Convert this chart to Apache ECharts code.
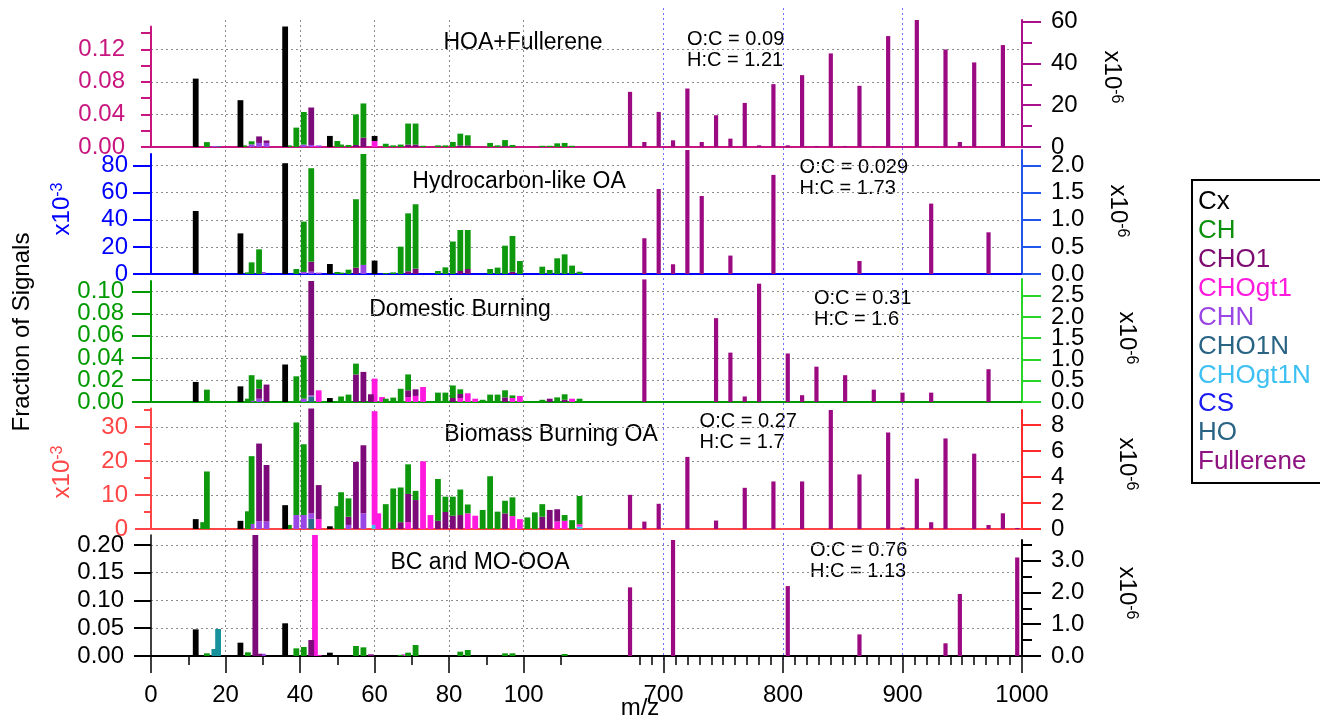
<!DOCTYPE html>
<html><head><meta charset="utf-8">
<script src="https://cdn.jsdelivr.net/npm/echarts@6.0.0/dist/echarts.min.js"></script>
<style>html,body{margin:0;padding:0;background:#fff}#main{width:1320px;height:720px}</style>
</head><body><div id="main"></div>
<script>
// ================= DATA =================
const FAMILIES = ['Cx','CH','CHO1','CHOgt1','CHN','CHO1N','CHOgt1N','CS','HO','Fullerene'];
const STACK_ORDER = ['HO','CS','CHOgt1N','CHO1N','CHN','CHOgt1','CHO1','CH','Cx'];

const MZ_LEFT_RANGE = [0, 117];
const MZ_RIGHT_RANGE = [636, 1000];
const X_LEFT_MAJOR = [0, 20, 40, 60, 80, 100];
const X_LEFT_MINOR = [10, 30, 50, 70, 90, 110];
const X_RIGHT_MAJOR = [700, 800, 900, 1000];
const X_RIGHT_MINOR_FROM = 680;

// ---- HOA+Fullerene
const HOAF_Cx = [[12,0.084],[24,0.0575],[36,0.148],[48,0.0136],[60,0.0062]];
const HOAF_CH = [[15,0.006],[25,0.002],[27,0.0037],[37,0.002],[39,0.0238],[41,0.040],[50,0.0074],[51,0.003],[53,0.0025],[55,0.0375],[57,0.042],[63,0.004],[65,0.002],[67,0.003],[69,0.0258],[71,0.0258],[73,0.0015],[77,0.002],[79,0.002],[81,0.0062],[83,0.0144],[85,0.0124],[91,0.005],[93,0.002],[95,0.0075],[97,0.0025],[105,0.0015],[107,0.0015],[109,0.0045],[111,0.005],[113,0.0015]];
const HOAF_CHO1 = [[29,0.008],[31,0.003],[43,0.046],[55,0.0025],[57,0.0115],[69,0.003],[71,0.003],[83,0.002],[85,0.002],[95,0.001]];
const HOAF_CHOgt1 = [[44,0.001],[60,0.0074]];
const HOAF_CHN = [[17,0.001],[27,0.0033],[29,0.005],[31,0.005],[41,0.003],[43,0.0025],[45,0.002]];
const HOAF_HO = [[18,0.0008]];
const HOAF_Fullerene = [[672,26.4],[684,2.4],[696,16.8],[708,3.2],[720,28],[732,2.4],[744,15.2],[756,4],[768,21.1],[780,0.8],[792,30.1],[804,0.8],[816,34.4],[828,0.5],[840,44.8],[852,0.5],[864,29.3],[876,0.3],[888,53.1],[912,60.8],[936,46.7],[948,2.4],[960,40.5],[984,48.8]];
const HOAF_LEFT_MAX = 0.148, HOAF_RIGHT_MAX = 60.8;
const HOAF_LEFT_TICKS = [0,0.04,0.08,0.12], HOAF_LEFT_MINOR = [0.02,0.06,0.10,0.14];
const HOAF_RIGHT_TICKS = [0,20,40,60], HOAF_RIGHT_MINOR = [10,30,50];

// ---- Hydrocarbon-like OA (x10^-3)
const HOA_Cx = [[12,46.5],[24,30],[36,81.8],[48,7.4],[60,9.9]];
const HOA_CH = [[26,1.2],[27,8.6],[29,18.2],[39,3.7],[41,37.2],[43,69],[50,1.5],[51,1],[53,3.2],[55,50.5],[57,82],[63,0.7],[65,1.2],[67,20.2],[69,42.8],[71,47.5],[77,2.2],[79,4.9],[81,24],[83,30.3],[85,28.8],[91,3.7],[93,4.7],[95,20.9],[97,26.4],[99,9.6],[105,5.4],[107,3],[109,11.6],[111,14.5],[113,6.2],[115,1.7]];
const HOA_CHO1 = [[43,7.4],[55,4.7],[69,2],[71,4],[83,2.2],[85,3.7],[97,1.7]];
const HOA_CHN = [[30,1.5],[41,1.5],[43,1.7],[45,1],[57,6.7]];
const HOA_Fullerene = [[684,0.66],[696,1.57],[708,0.18],[720,2.29],[732,1.44],[756,0.34],[792,1.83],[864,0.24],[924,1.3],[972,0.77]];
const HOA_LEFT_MAX = 88.6, HOA_RIGHT_MAX = 2.29;
const HOA_LEFT_TICKS = [0,20,40,60,80], HOA_LEFT_MINOR = [];
const HOA_RIGHT_TICKS = [0,0.5,1.0,1.5,2.0], HOA_RIGHT_MINOR = [];

// ---- Domestic Burning
const DB_Cx = [[12,0.0182],[24,0.0142],[36,0.034],[48,0.0036]];
const DB_CH = [[15,0.0112],[26,0.003],[27,0.0233],[29,0.0083],[39,0.0233],[41,0.039],[51,0.005],[53,0.0067],[55,0.0098],[63,0.003],[65,0.004],[67,0.012],[69,0.0144],[77,0.0085],[79,0.0085],[81,0.0114],[83,0.0042],[89,0.002],[91,0.0067],[93,0.0067],[95,0.0064],[97,0.0024],[105,0.002],[109,0.0042],[111,0.005],[115,0.003]];
const DB_CHO1 = [[29,0.009],[31,0.0158],[43,0.1037],[55,0.025],[57,0.0273],[59,0.007],[69,0.0061],[71,0.006],[81,0.0036],[83,0.0037],[95,0.0042],[107,0.003],[111,0.002]];
const DB_CHOgt1 = [[45,0.0106],[60,0.0212],[62,0.0045],[69,0.0045],[71,0.0055],[73,0.0136],[83,0.0036],[85,0.0079],[87,0.003],[97,0.0036],[99,0.0055],[113,0.003]];
const DB_CHN = [[27,0.001],[29,0.003],[41,0.003],[43,0.001]];
const DB_CHO1N = [[43,0.005]];
const DB_Fullerene = [[684,2.88],[744,1.97],[756,1.16],[768,0.13],[780,2.78],[804,1.14],[816,0.16],[828,0.83],[852,0.63],[876,0.29],[900,0.22],[924,0.22],[972,0.77]];
const DB_LEFT_MAX = 0.1097, DB_RIGHT_MAX = 2.89;
const DB_LEFT_TICKS = [0,0.02,0.04,0.06,0.08,0.10], DB_LEFT_MINOR = [];
const DB_RIGHT_TICKS = [0,0.5,1.0,1.5,2.0,2.5], DB_RIGHT_MINOR = [];

// ---- Biomass Burning OA (x10^-3)
const BB_Cx = [[12,2.9],[24,2.4],[36,7.0],[48,0.8]];
const BB_CH = [[14,2],[15,16.9],[26,5.2],[27,19.9],[37,1.2],[39,27.2],[41,20.8],[50,6.7],[51,10.8],[53,5.4],[63,7.3],[65,11.9],[67,10.2],[69,8.7],[71,2.7],[77,12.3],[79,4.5],[81,5.6],[83,7.5],[85,2.6],[89,5.6],[91,15.5],[93,5.1],[95,3.7],[97,5.5],[101,3.4],[103,4.9],[105,3.7],[111,1.7],[113,2.6],[115,8.3]];
const BB_CHO1 = [[29,22.8],[31,16.6],[43,30.9],[45,10],[53,2.4],[55,19.7],[57,20],[67,2],[69,8.3],[71,8.5],[77,2.4],[79,5],[81,3.9],[83,4.1],[95,4.6],[105,3.6],[107,5.6],[109,3.6]];
const BB_CHOgt1 = [[45,2.9],[60,33.4],[61,4.6],[69,2],[73,19.9],[75,4.1],[85,4.6],[87,3.9],[97,3.8],[99,2.9],[109,2.2],[111,2.4],[115,0.7]];
const BB_CHN = [[27,1.5],[29,2.3],[31,2.2],[39,4.1],[41,4.1],[43,1.6],[53,1.2],[57,4.6]];
const BB_CHO1N = [[43,3]];
const BB_CHOgt1N = [[60,1.2],[115,0.7]];
const BB_Fullerene = [[672,2.63],[684,0.57],[696,1.94],[720,5.55],[744,0.65],[768,3.17],[792,3.66],[816,3.66],[840,9.16],[864,4.2],[888,7.43],[900,0.13],[912,3.87],[924,0.52],[936,6.97],[960,5.8],[972,0.31],[984,1.21],[996,0.08]];
const BB_LEFT_MAX = 35.4, BB_RIGHT_MAX = 9.16;
const BB_LEFT_TICKS = [0,10,20,30], BB_LEFT_MINOR = [5,15,25,35];
const BB_RIGHT_TICKS = [0,2,4,6,8], BB_RIGHT_MINOR = [];

// ---- BC and MO-OOA
const BC_Cx = [[12,0.048],[24,0.024],[36,0.0589],[48,0.006]];
const BC_CH = [[15,0.0048],[26,0.0066],[39,0.0138],[41,0.0162],[55,0.018],[57,0.0156],[67,0.002],[69,0.006],[71,0.0198],[83,0.0078],[85,0.0108],[95,0.0048],[97,0.0048],[111,0.0036]];
const BC_CHO1 = [[28,0.218],[29,0.004],[43,0.0288],[59,0.003]];
const BC_CHOgt1 = [[44,0.218],[45,0.0015],[68,0.003]];
const BC_CHN = [[30,0.004]];
const BC_HO = [[17,0.0126],[18,0.0486]];
const BC_Fullerene = [[672,2.16],[708,3.67],[804,2.2],[864,0.68],[936,0.4],[948,1.95],[996,3.1]];
const BC_LEFT_MAX = 0.218, BC_RIGHT_MAX = 3.65;
const BC_LEFT_TICKS = [0,0.05,0.10,0.15,0.20], BC_LEFT_MINOR = [];
const BC_RIGHT_TICKS = [0,1.0,2.0,3.0], BC_RIGHT_MINOR = [0.5,1.5,2.5,3.5];

const PANELS = [
  {title:'HOA+Fullerene', oc:'0.09', hc:'1.21', leftExp:null,
   left:{Cx:HOAF_Cx, CH:HOAF_CH, CHO1:HOAF_CHO1, CHOgt1:HOAF_CHOgt1, CHN:HOAF_CHN, HO:HOAF_HO},
   fullerene:HOAF_Fullerene, leftMax:HOAF_LEFT_MAX, rightMax:HOAF_RIGHT_MAX,
   leftTicks:HOAF_LEFT_TICKS, leftMinor:HOAF_LEFT_MINOR, rightTicks:HOAF_RIGHT_TICKS, rightMinor:HOAF_RIGHT_MINOR},
  {title:'Hydrocarbon-like OA', oc:'0.029', hc:'1.73', leftExp:'-3',
   left:{Cx:HOA_Cx, CH:HOA_CH, CHO1:HOA_CHO1, CHN:HOA_CHN},
   fullerene:HOA_Fullerene, leftMax:HOA_LEFT_MAX, rightMax:HOA_RIGHT_MAX,
   leftTicks:HOA_LEFT_TICKS, leftMinor:HOA_LEFT_MINOR, rightTicks:HOA_RIGHT_TICKS, rightMinor:HOA_RIGHT_MINOR},
  {title:'Domestic Burning', oc:'0.31', hc:'1.6', leftExp:null,
   left:{Cx:DB_Cx, CH:DB_CH, CHO1:DB_CHO1, CHOgt1:DB_CHOgt1, CHN:DB_CHN, CHO1N:DB_CHO1N},
   fullerene:DB_Fullerene, leftMax:DB_LEFT_MAX, rightMax:DB_RIGHT_MAX,
   leftTicks:DB_LEFT_TICKS, leftMinor:DB_LEFT_MINOR, rightTicks:DB_RIGHT_TICKS, rightMinor:DB_RIGHT_MINOR},
  {title:'Biomass Burning OA', oc:'0.27', hc:'1.7', leftExp:'-3',
   left:{Cx:BB_Cx, CH:BB_CH, CHO1:BB_CHO1, CHOgt1:BB_CHOgt1, CHN:BB_CHN, CHO1N:BB_CHO1N, CHOgt1N:BB_CHOgt1N},
   fullerene:BB_Fullerene, leftMax:BB_LEFT_MAX, rightMax:BB_RIGHT_MAX,
   leftTicks:BB_LEFT_TICKS, leftMinor:BB_LEFT_MINOR, rightTicks:BB_RIGHT_TICKS, rightMinor:BB_RIGHT_MINOR},
  {title:'BC and MO-OOA', oc:'0.76', hc:'1.13', leftExp:null,
   left:{Cx:BC_Cx, CH:BC_CH, CHO1:BC_CHO1, CHOgt1:BC_CHOgt1, CHN:BC_CHN, HO:BC_HO},
   fullerene:BC_Fullerene, leftMax:BC_LEFT_MAX, rightMax:BC_RIGHT_MAX,
   leftTicks:BC_LEFT_TICKS, leftMinor:BC_LEFT_MINOR, rightTicks:BC_RIGHT_TICKS, rightMinor:BC_RIGHT_MINOR}
];

// ================= STYLE / LAYOUT =================
const FONT = "'Liberation Sans', Arial, Helvetica, sans-serif";
const FAMILY_COLORS = {Cx:'#000000', CH:'#0e980e', CHO1:'#7c0a78', CHOgt1:'#ff1ade', CHN:'#9a46e4',
  CHO1N:'#2a6a88', CHOgt1N:'#3ec0f2', CS:'#1a1af2', HO:'#17929c', Fullerene:'#9c0a82'};
const LEGEND_COLORS = {Cx:'#000000', CH:'#0c8f0c', CHO1:'#7c0a70', CHOgt1:'#ff1ade', CHN:'#9a46e4',
  CHO1N:'#2a6484', CHOgt1N:'#3ec0f2', CS:'#1a1af2', HO:'#2a6484', Fullerene:'#8e1280'};
const X0 = 151, XS = 587, X1 = 1022;
const LAYOUT = [
  {base:147, lTop:26.5, rTop:20, lColor:'#c8157f', lLabel:'#c8157f', rColor:'#aa0f8c', lTick:10, lMinorTick:10, lMargin:26, lDec:2, rDec:0, lw:2,
   title:[523,43], ratio:[687,28.5], x10R:[1112,77], x10L:null},
  {base:274, lTop:154, rTop:150, lColor:'#0000ff', lLabel:'#0000ff', rColor:'#2255ee', lTick:18, lMinorTick:9, lMargin:23, lDec:0, rDec:1, lw:2,
   title:[519,182], ratio:[799.6,157], x10R:[1118,211], x10L:[62,209]},
  {base:402, lTop:281, rTop:279, lColor:'#009a00', lLabel:'#009a00', rColor:'#2ad52a', lTick:19, lMinorTick:9, lMargin:27, lDec:2, rDec:1, lw:2,
   title:[460,310], ratio:[814,287.5], x10R:[1127,338], x10L:null},
  {base:529, lTop:408.5, rTop:410, lColor:'#ff4646', lLabel:'#ff4646', rColor:'#ff2a2a', lTick:16, lMinorTick:7, lMargin:23, lDec:0, rDec:0, lw:2,
   title:[551,435], ratio:[699.6,411], x10R:[1127,464], x10L:[62,472]},
  {base:656, lTop:535, rTop:540, lColor:'#000000', lLabel:'#000000', rColor:'#000000', lTick:17, lMinorTick:9, lMargin:27, lDec:2, rDec:1, lw:1.5,
   title:[480,563], ratio:[810,539.5], x10R:[1127,593], x10L:null}
];

const LEFT_CATS = []; for (let m = MZ_LEFT_RANGE[0]; m <= MZ_LEFT_RANGE[1]; m++) LEFT_CATS.push(String(m));
const RIGHT_CATS = []; for (let m = MZ_RIGHT_RANGE[0]; m <= MZ_RIGHT_RANGE[1]; m++) RIGHT_CATS.push(String(m));

const grids = [], xAxes = [], yAxes = [], series = [], graphics = [];
function addGrid(left, top, width, height) { grids.push({left, top, width, height, containLabel:false, outerBoundsMode:'none'}); return grids.length - 1; }
function addX(o) { xAxes.push(o); return xAxes.length - 1; }
function addY(o) { yAxes.push(o); return yAxes.length - 1; }
function catAxis(g, cats, extra) {
  return Object.assign({type:'category', gridIndex:g, data:cats, boundaryGap:false, position:'bottom', silent:true,
    axisLine:{show:false, onZero:false}, axisTick:{show:false}, axisLabel:{show:false}, splitLine:{show:false}}, extra || {});
}
function valAxis(g, pos, min, max, extra) {
  return Object.assign({type:'value', gridIndex:g, position:pos, min, max, silent:true,
    axisLine:{show:false, onZero:false}, axisTick:{show:false}, axisLabel:{show:false}, splitLine:{show:false}}, extra || {});
}
const GRID_DOT = {color:'#8c8c8c', width:1, type:[2,3]};
const BLUE_DOT = {color:'#6f6fff', width:1, type:[2,3]};

// overlay grid for vertical dotted grid lines (left segment)
{
  const g = addGrid(X0, 20, XS - X0, 656 - 20);
  addX(valAxis(g, 'bottom', MZ_LEFT_RANGE[0], MZ_LEFT_RANGE[1], {axisTick:{show:false, customValues:X_LEFT_MAJOR.filter(v => v > 0)},
    splitLine:{show:true, lineStyle:GRID_DOT}}));
  addY({type:'value', gridIndex:g, show:false, min:0, max:1});
}
// right segment: one overlay grid per vertical grid line
X_RIGHT_MAJOR.filter(v => v < MZ_RIGHT_RANGE[1]).forEach(v => {
  const g = addGrid(XS, 8, X1 - XS, 652);
  addX(valAxis(g, 'bottom', MZ_RIGHT_RANGE[0], MZ_RIGHT_RANGE[1], {axisTick:{show:false, customValues:[v]},
    splitLine:{show:true, lineStyle:BLUE_DOT}}));
  addY({type:'value', gridIndex:g, show:false, min:0, max:1});
});

PANELS.forEach((p, i) => {
  const L = LAYOUT[i];
  const bottom = i === PANELS.length - 1;
  const gl = addGrid(X0, L.lTop, XS - X0, L.base - L.lTop);
  const gr = addGrid(XS, L.rTop, X1 - XS, L.base - L.rTop);
  const axColor = L.lColor;
  const tickStyle = {color:'#000', width:1.5};
  const xl = addX(catAxis(gl, LEFT_CATS, Object.assign({axisLine:{show:true, onZero:false, lineStyle:{color:axColor, width:2}}},
    bottom ? {axisTick:{show:true, interval:(k, v) => X_LEFT_MAJOR.includes(+v), length:17, lineStyle:tickStyle},
              axisLabel:{show:true, interval:(k, v) => X_LEFT_MAJOR.includes(+v), color:'#000', fontSize:24, fontFamily:FONT, margin:27}} : {})));
  const xr = addX(catAxis(gr, RIGHT_CATS, Object.assign({axisLine:{show:true, onZero:false, lineStyle:{color:axColor, width:2}}},
    bottom ? {axisTick:{show:true, interval:(k, v) => X_RIGHT_MAJOR.includes(+v), length:17, lineStyle:tickStyle},
              axisLabel:{show:true, interval:(k, v) => X_RIGHT_MAJOR.includes(+v), color:'#000', fontSize:24, fontFamily:FONT, margin:27}} : {})));
  if (bottom) {
    addX(catAxis(gl, LEFT_CATS, {axisTick:{show:true, interval:(k, v) => X_LEFT_MINOR.includes(+v), length:9, lineStyle:tickStyle}}));
    addX(catAxis(gr, RIGHT_CATS, {axisTick:{show:true, interval:(k, v) => (+v >= X_RIGHT_MINOR_FROM && +v % 10 === 0 && !X_RIGHT_MAJOR.includes(+v)), length:9, lineStyle:tickStyle}}));
  }
  const yLabel = (vals, color, margin, dec) => ({show:true, customValues:vals, showMinLabel:true, showMaxLabel:true, hideOverlap:false,
    color, fontSize:24, fontFamily:FONT, margin, formatter:v => Number(v).toFixed(dec)});
  const evens = a => a.filter((v, k) => k % 2 === 0), odds = a => a.filter((v, k) => k % 2 === 1);
  const yl = addY(valAxis(gl, 'left', 0, p.leftMax, {
    axisLine:{show:true, onZero:false, lineStyle:{color:axColor, width:L.lw}},
    axisTick:{show:true, customValues:p.leftTicks, length:L.lTick, lineStyle:{color:axColor, width:2}},
    axisLabel:yLabel(evens(p.leftTicks), L.lLabel, L.lMargin, L.lDec)}));
  addY(valAxis(gl, 'left', 0, p.leftMax, {axisLabel:yLabel(odds(p.leftTicks), L.lLabel, L.lMargin, L.lDec)}));
  if (p.leftMinor.length) addY(valAxis(gl, 'left', 0, p.leftMax, {axisTick:{show:true, customValues:p.leftMinor, length:L.lMinorTick, lineStyle:{color:axColor, width:2}}}));
  const splitVals = p.leftTicks.filter(v => v > 0);
  addY(valAxis(gl, 'left', 0, p.leftMax, {axisTick:{show:false, customValues:splitVals}, splitLine:{show:true, lineStyle:GRID_DOT}}));
  const yr = addY(valAxis(gr, 'right', 0, p.rightMax, {
    axisLine:{show:true, onZero:false, lineStyle:{color:L.rColor, width:2}},
    axisTick:{show:true, customValues:p.rightTicks, length:19, lineStyle:{color:L.rColor, width:2}},
    axisLabel:yLabel(evens(p.rightTicks), '#000', 29, L.rDec)}));
  addY(valAxis(gr, 'right', 0, p.rightMax, {axisLabel:yLabel(odds(p.rightTicks), '#000', 29, L.rDec)}));
  if (p.rightMinor.length) addY(valAxis(gr, 'right', 0, p.rightMax, {axisTick:{show:true, customValues:p.rightMinor, length:10, lineStyle:{color:L.rColor, width:2}}}));
  const scaledMax = p.leftMax * (L.base - L.rTop) / (L.base - L.lTop);
  addY(valAxis(gr, 'right', 0, scaledMax, {axisTick:{show:false, customValues:splitVals}, splitLine:{show:true, lineStyle:GRID_DOT}}));

  STACK_ORDER.forEach(fam => {
    const arr = p.left[fam];
    if (!arr) return;
    series.push({type:'bar', name:fam, xAxisIndex:xl, yAxisIndex:yl, stack:'P' + i, barWidth:5.8,
      data:arr.map(d => [String(d[0]), d[1]]), itemStyle:{color:FAMILY_COLORS[fam]}, silent:true});
  });
  series.push({type:'bar', name:'Fullerene', xAxisIndex:xr, yAxisIndex:yr, barWidth:4.2,
    data:p.fullerene.map(d => [String(d[0]), d[1]]), itemStyle:{color:FAMILY_COLORS.Fullerene}, silent:true});

  graphics.push({type:'text', x:L.title[0], y:L.title[1], silent:true,
    style:{text:p.title, fill:'#000', fontSize:23, fontFamily:FONT, align:'center', verticalAlign:'middle'}});
  graphics.push({type:'text', x:L.ratio[0], y:L.ratio[1], silent:true,
    style:{text:'O:C = ' + p.oc + '\nH:C = ' + p.hc, fill:'#000', fontSize:20, lineHeight:21, fontFamily:FONT, align:'left', verticalAlign:'top'}});
  graphics.push({type:'text', x:L.x10R[0], y:L.x10R[1], rotation:-Math.PI / 2, silent:true,
    style:{text:'x10{s|-6}', fill:'#000', fontSize:24, fontFamily:FONT, align:'center', verticalAlign:'middle',
      rich:{s:{fontSize:16, fontFamily:FONT, fill:'#000', verticalAlign:'top'}}}});
  if (p.leftExp) {
    graphics.push({type:'text', x:L.x10L[0], y:L.x10L[1], rotation:Math.PI / 2, silent:true,
      style:{text:'x10{s|' + p.leftExp + '}', fill:L.lLabel, fontSize:24, fontFamily:FONT, align:'center', verticalAlign:'middle',
        rich:{s:{fontSize:16, fontFamily:FONT, fill:L.lLabel, verticalAlign:'top'}}}});
  }
});

graphics.push({type:'text', x:22, y:332, rotation:Math.PI / 2, silent:true,
  style:{text:'Fraction of Signals', fill:'#000', fontSize:24, fontFamily:FONT, align:'center', verticalAlign:'middle'}});
graphics.push({type:'text', x:640, y:708, silent:true,
  style:{text:'m/z', fill:'#000', fontSize:24, fontFamily:FONT, align:'center', verticalAlign:'middle'}});

graphics.push({type:'rect', silent:true, shape:{x:1192, y:180, width:132, height:303},
  style:{fill:'#fff', stroke:'#000', lineWidth:2}});
FAMILIES.forEach((f, k) => {
  graphics.push({type:'text', x:1198, y:202 + k * 28.9, silent:true,
    style:{text:f, fill:LEGEND_COLORS[f], fontSize:26, fontFamily:FONT, align:'left', verticalAlign:'middle'}});
});

const chart = echarts.init(document.getElementById('main'), null, {renderer:'canvas'});
chart.setOption({
  animation:false,
  backgroundColor:'#ffffff',
  grid:grids, xAxis:xAxes, yAxis:yAxes, series:series,
  graphic:{elements:graphics}
});
</script></body></html>
